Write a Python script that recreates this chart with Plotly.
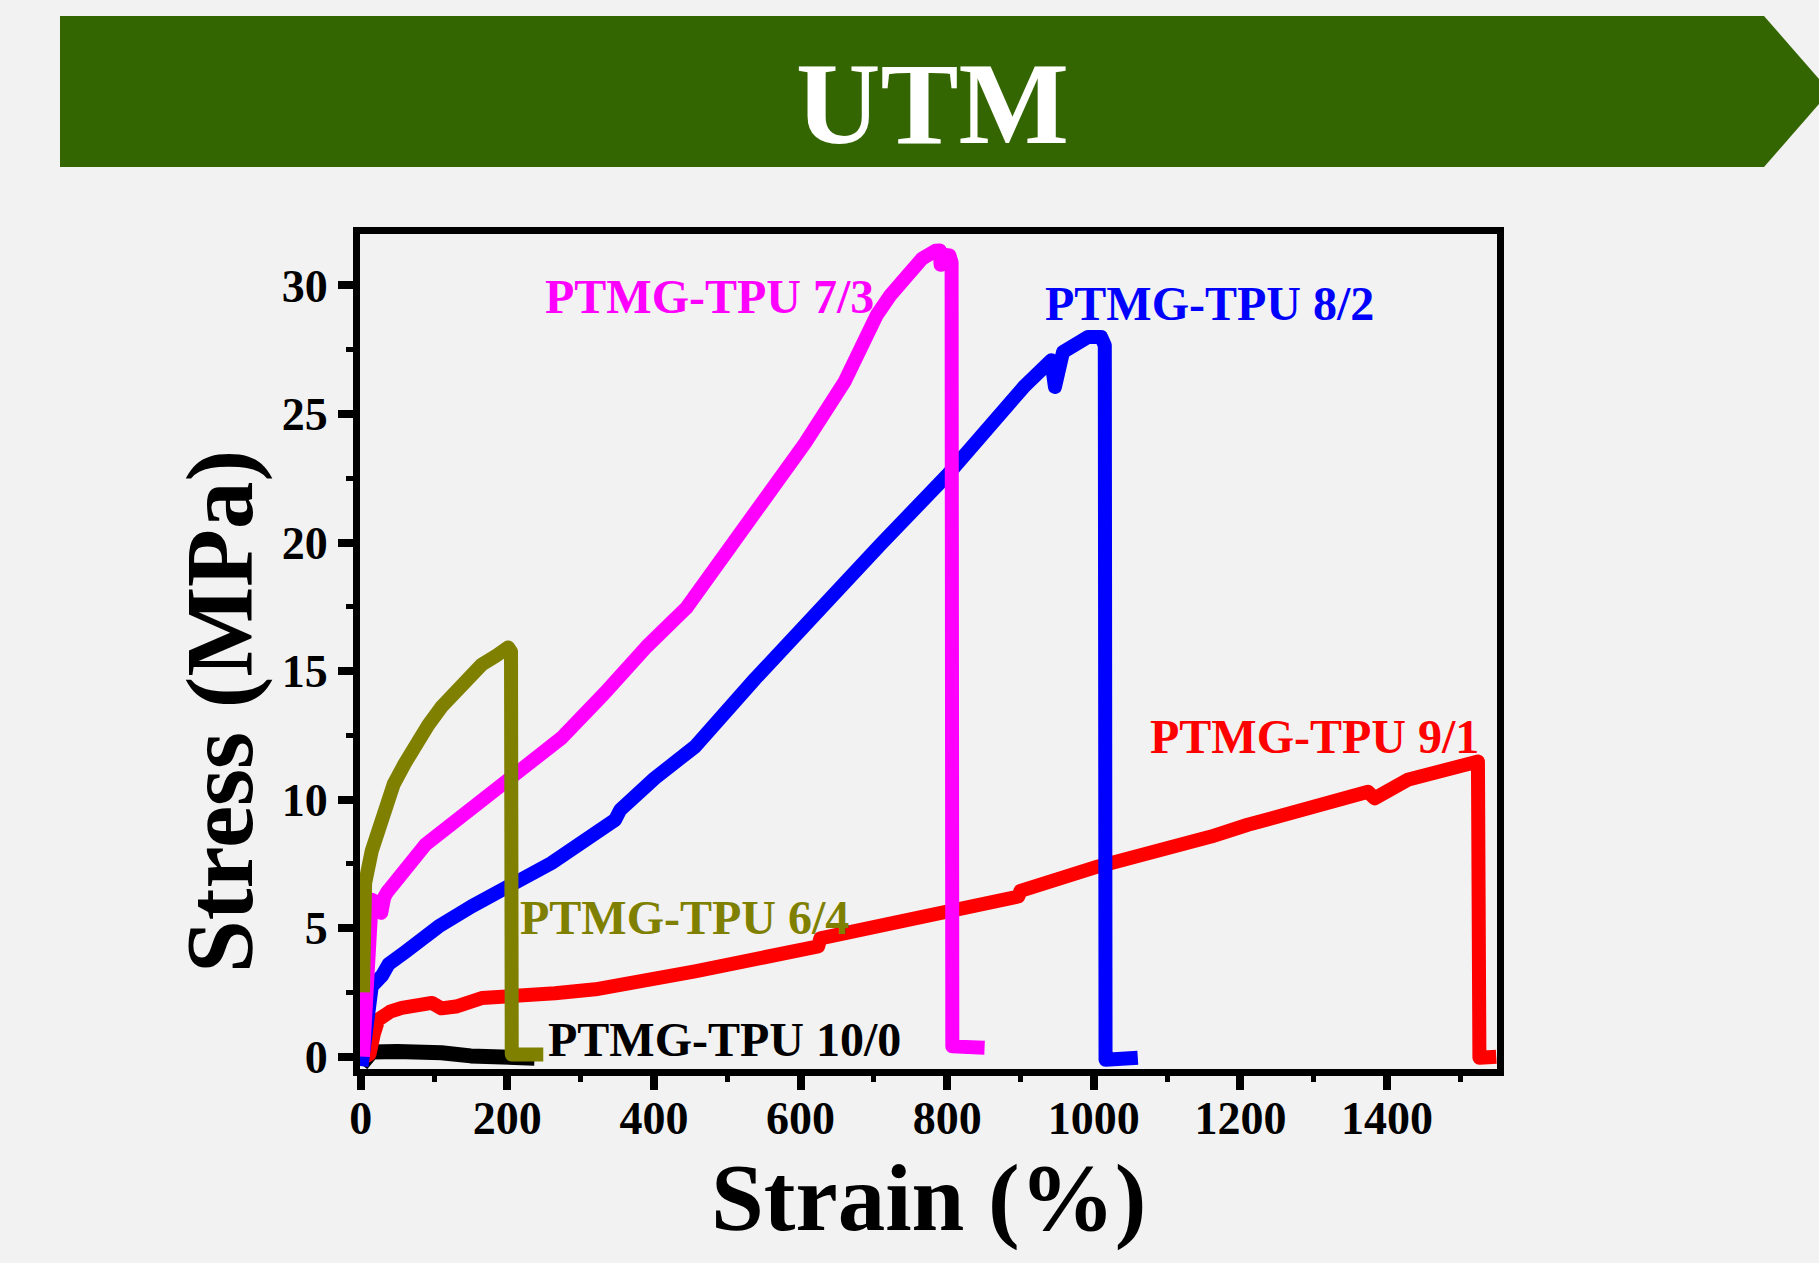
import plotly.graph_objects as go

# ---------------- data ----------------
x_10_0 = [1, 8, 15, 50, 75, 110, 150, 200, 237]
y_10_0 = [-0.3, 0.0, 0.18, 0.2, 0.22, 0.15, 0.03, -0.04, -0.06]

x_9_1 = [6, 12, 18, 24, 40, 56, 97, 110, 130, 165, 265, 320, 456, 579, 624, 627, 710, 833, 897, 900,
         1006, 1160, 1210, 1374, 1383, 1428, 1524, 1526, 1549]
y_9_1 = [0.0, 0.1, 0.9, 1.44, 1.75, 1.9, 2.09, 1.88, 1.95, 2.28, 2.47, 2.62, 3.32, 4.09, 4.29, 4.6, 5.1, 5.78, 6.23, 6.45,
         7.4, 8.56, 9.02, 10.3, 10.05, 10.77, 11.48, -0.04, 0.0]

x_8_2 = [1, 8, 15, 29, 38, 60, 106, 151, 206, 260, 347, 354, 401, 456, 538, 583, 638, 710, 801, 906,
         942, 947, 958, 992, 1010, 1015, 1016, 1060]
y_8_2 = [-0.37, 1.5, 2.73, 3.15, 3.6, 4.06, 5.06, 5.84, 6.62, 7.53, 9.21, 9.6, 10.83, 12.06, 14.7, 16.0, 17.75, 19.95, 22.65, 26.1,
         27.09, 26.05, 27.41, 27.99, 27.99, 27.67, -0.12, -0.04]

x_7_3 = [3, 8, 15, 22, 28, 32, 36, 88, 147, 206, 274, 333, 390, 444, 547, 606, 660, 684, 704, 722, 747, 766, 784, 790,
         791, 795, 803, 806, 807, 851]
y_7_3 = [0.0, 2.5, 6.1, 6.0, 5.6, 6.2, 6.4, 8.24, 9.6, 10.84, 12.4, 14.15, 15.95, 17.45, 21.4, 23.86, 26.25, 27.7, 28.85, 29.6, 30.5, 31.05, 31.35, 31.36,
         30.8, 31.2, 31.17, 30.9, 0.4, 0.35]

x_6_4 = [3, 4, 6, 15, 25, 33, 45, 60, 75, 92, 110, 129, 147, 165, 185, 196, 201, 205, 206, 249]
y_6_4 = [2.5, 5.0, 6.75, 8.0, 9.0, 9.7, 10.6, 11.4, 12.15, 12.9, 13.6, 14.2, 14.8, 15.25, 15.6, 15.85, 15.92, 15.75, 0.08, 0.08]

series_names = ["PTMG-TPU 10/0", "PTMG-TPU 9/1", "PTMG-TPU 8/2", "PTMG-TPU 7/3", "PTMG-TPU 6/4"]
series_colors = ["#000000", "#ff0000", "#0000ff", "#ff00ff", "#808000"]

x_ticks = [0, 200, 400, 600, 800, 1000, 1200, 1400]
y_ticks = [0, 5, 10, 15, 20, 25, 30]

# label anchor positions (data coords, left edge / cap centre)
label_x = [253, 1074, 931, 249, 215]
label_y = [0.66, 12.46, 29.28, 29.58, 5.4]

# ---------------- layout geometry ----------------
W, H = 1819, 1263
L, R, T, B = 360, 1497, 234, 1069
FONT = "Liberation Serif, Times New Roman, serif"
BG = "#f2f2f2"


def px2paper(X, Y):
    return (X - L) / (R - L), (B - Y) / (B - T)


fig = go.Figure()
widths = [15, 14, 14, 14, 14]
xs = [x_10_0, x_9_1, x_8_2, x_7_3, x_6_4]
ys = [y_10_0, y_9_1, y_8_2, y_7_3, y_6_4]
for xv, yv, name, col, w in zip(xs, ys, series_names, series_colors, widths):
    fig.add_trace(go.Scatter(x=xv, y=yv, mode="lines", name=name,
                             line=dict(color=col, width=w), showlegend=False))

annotations = []
for name, col, lx, ly in zip(series_names, series_colors, label_x, label_y):
    annotations.append(dict(x=lx, y=ly, xref="x", yref="y", text=name, showarrow=False,
                            xanchor="left", yanchor="middle",
                            font=dict(family=FONT, size=48, color=col, weight="bold")))

# axis titles
ax_, ay_ = px2paper(220, 712)
annotations.append(dict(x=ax_, y=ay_, xref="paper", yref="paper", text="Stress (MPa)",
                        textangle=-90, showarrow=False, xanchor="center", yanchor="middle",
                        font=dict(family=FONT, size=95, color="black", weight="bold")))
bx_, by_ = px2paper(928, 1198)
annotations.append(dict(x=bx_, y=by_, xref="paper", yref="paper", text="Strain (%)",
                        showarrow=False, xanchor="center", yanchor="middle",
                        font=dict(family=FONT, size=95, color="black", weight="bold")))
# banner title
tx_, ty_ = px2paper(932, 103)
annotations.append(dict(x=tx_, y=ty_, xref="paper", yref="paper", text="UTM",
                        showarrow=False, xanchor="center", yanchor="middle",
                        font=dict(family=FONT, size=117, color="white", weight="bold")))

# banner shape (arrow-like)
pts = [(60, 16), (1764, 16), (1830, 91.5), (1764, 167), (60, 167)]
path = ""
for i, (X, Y) in enumerate(pts):
    px_, py_ = px2paper(X, Y)
    path += ("M" if i == 0 else "L") + f"{px_:.5f},{py_:.5f} "
path += "Z"
shapes = [dict(type="path", xref="paper", yref="paper", path=path,
               fillcolor="#336600", line=dict(width=0), layer="below")]

fig.update_layout(
    width=W, height=H,
    margin=dict(l=L, r=W - R, t=T, b=H - B, pad=0),
    paper_bgcolor=BG, plot_bgcolor=BG,
    annotations=annotations, shapes=shapes,
    font=dict(family=FONT, color="black"),
)

fig.update_xaxes(
    range=[-1, 1550], tickvals=x_ticks, ticktext=[str(v) for v in x_ticks],
    showline=True, linecolor="black", linewidth=7, mirror=True,
    ticks="outside", ticklen=14, tickwidth=8, tickcolor="black",
    minor=dict(dtick=100, tick0=0, ticks="outside", ticklen=6, tickwidth=5, tickcolor="black"),
    showgrid=False, zeroline=False,
    tickfont=dict(family=FONT, size=46, color="black", weight="bold"),
    ticklabelstandoff=-11,
)
fig.update_yaxes(
    range=[-0.48, 32.0], tickvals=y_ticks, ticktext=[str(v) for v in y_ticks],
    showline=True, linecolor="black", linewidth=7, mirror=True,
    ticks="outside", ticklen=15, tickwidth=8, tickcolor="black",
    minor=dict(dtick=2.5, tick0=0, ticks="outside", ticklen=7, tickwidth=5, tickcolor="black"),
    showgrid=False, zeroline=False,
    tickfont=dict(family=FONT, size=46, color="black", weight="bold"),
    ticklabelstandoff=1,
)

fig.write_html(
    "out.html",
    config={"displayModeBar": False},
    post_script="document.body.style.margin='0';document.body.style.background='#f2f2f2';"
                "document.documentElement.style.overflow='hidden';"
                "document.querySelectorAll('.scatterlayer .js-line').forEach(function(p){"
                "p.style.strokeLinejoin='round';});",
)
